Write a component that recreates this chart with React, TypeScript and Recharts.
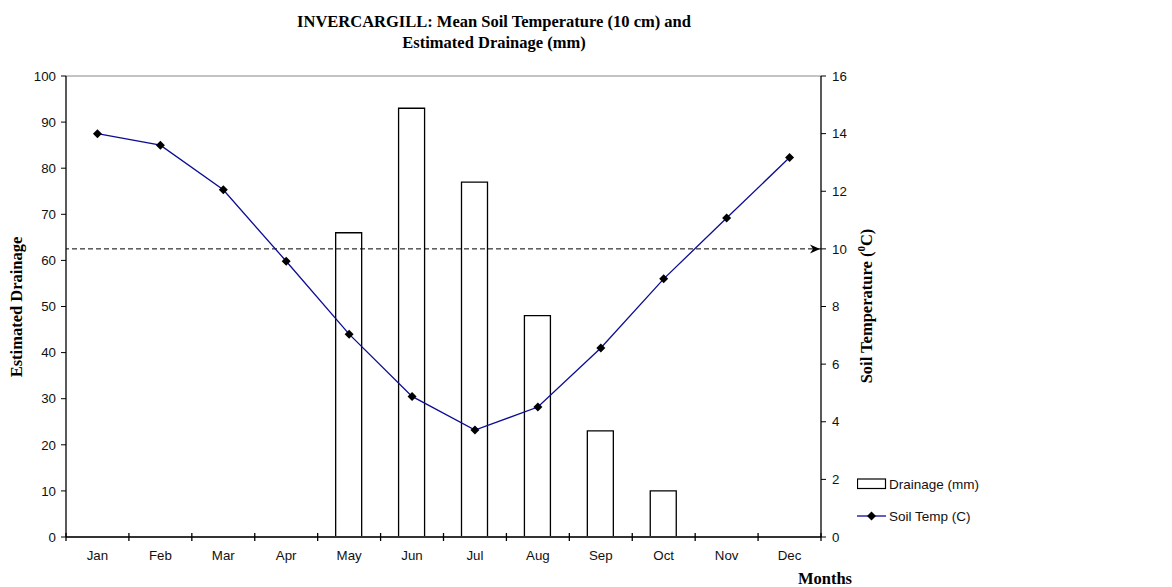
import { ComposedChart, Bar, Line, XAxis, YAxis, ReferenceLine } from "recharts";

const MONTHS = ["Jan", "Feb", "Mar", "Apr", "May", "Jun", "Jul", "Aug", "Sep", "Oct", "Nov", "Dec"];
const DRAINAGE = [0, 0, 0, 0, 66, 93, 77, 48, 23, 10, 0, 0];
const SOIL_TEMP = [14.0, 13.6, 12.05, 9.57, 7.04, 4.88, 3.71, 4.51, 6.56, 8.96, 11.07, 13.17];
const DRAINAGE_TICKS = [0, 10, 20, 30, 40, 50, 60, 70, 80, 90, 100];
const TEMP_TICKS = [0, 2, 4, 6, 8, 10, 12, 14, 16];
const THRESHOLD_TEMP = 10;

const data = MONTHS.map((month, i) => ({ month, drainage: DRAINAGE[i], temp: SOIL_TEMP[i] }));

const SERIF = '"Liberation Serif", "Times New Roman", serif';
const SANS = '"Liberation Sans", Arial, sans-serif';
const NAVY = "#0c0c94";
const tickStyle = { fontSize: 13.3, fill: "#111", fontFamily: SANS };

function Diamond(props: any) {
  const { cx, cy, index } = props;
  if (cx == null || cy == null) return null;
  const r = 4.5;
  return (
    <path key={`d-${index}`} d={`M${cx},${cy - r}L${cx + r},${cy}L${cx},${cy + r}L${cx - r},${cy}Z`} fill="#000" />
  );
}

function ArrowHead(props: any) {
  const vb = props.viewBox;
  if (!vb) return null;
  const x = vb.x + vb.width - 1;
  const y = vb.y;
  return <path d={`M${x},${y}L${x - 10},${y - 4.5}L${x - 7},${y}L${x - 10},${y + 4.5}Z`} fill="#000" />;
}

// month label plus the small marks across the axis at the month boundaries
function MonthTick(props: any) {
  const { x, y, payload, index, width, visibleTicksCount } = props;
  const w = Number(width);
  const n = Number(visibleTicksCount);
  const half = w > 0 && n > 0 ? w / n / 2 : 31.4;
  const top = y - 18;
  const bottom = y - 10;
  return (
    <g>
      <path d={`M${x - half},${top}V${bottom}`} stroke="#000" strokeWidth={1.3} fill="none" />
      {index === n - 1 && <path d={`M${x + half},${top}V${bottom}`} stroke="#000" strokeWidth={1.3} fill="none" />}
      <text x={x} y={y} dy="0.71em" textAnchor="middle" {...tickStyle}>
        {payload.value}
      </text>
    </g>
  );
}

const bold: React.CSSProperties = {
  position: "absolute",
  fontFamily: SERIF,
  fontWeight: "bold",
  fontSize: 16.5,
  color: "#000",
  whiteSpace: "nowrap",
  transform: "translate(-50%, -50%)",
};

export default function App() {
  return (
    <div style={{ position: "absolute", left: 0, top: 0, width: 1172, height: 587, background: "#fff", fontFamily: SANS }}>
      <ComposedChart width={1172} height={587} data={data} margin={{ top: 76, right: 311, bottom: 20, left: 25 }}>
        <XAxis
          dataKey="month"
          height={30}
          axisLine={{ stroke: "#333", strokeWidth: 2 }}
          tickLine={false}
          tickSize={4}
          tickMargin={10}
          tick={<MonthTick />}
          interval={0}
        />
        <YAxis
          yAxisId="left"
          width={41}
          domain={[0, 100]}
          ticks={DRAINAGE_TICKS}
          interval={0}
          tickSize={5}
          tickMargin={5}
          tick={tickStyle}
          axisLine={{ stroke: "#000", strokeWidth: 1.3 }}
          tickLine={{ stroke: "#000" }}
        />
        <YAxis
          yAxisId="right"
          orientation="right"
          width={40}
          domain={[0, 16]}
          ticks={TEMP_TICKS}
          interval={0}
          tickSize={5}
          tickMargin={6}
          tick={tickStyle}
          axisLine={{ stroke: "#000", strokeWidth: 1.3 }}
          tickLine={{ stroke: "#000" }}
        />
        <ReferenceLine yAxisId="left" y={100} stroke="#888" strokeWidth={1} />
        <Bar
          yAxisId="left"
          dataKey="drainage"
          name="Drainage (mm)"
          barSize={26}
          fill="#fff"
          stroke="#000"
          strokeWidth={1.3}
          isAnimationActive={false}
        />
        <ReferenceLine
          yAxisId="right"
          y={THRESHOLD_TEMP}
          stroke="#000"
          strokeDasharray="5 3"
          label={<ArrowHead />}
        />
        <Line
          yAxisId="right"
          dataKey="temp"
          name="Soil Temp (C)"
          stroke={NAVY}
          strokeWidth={1.3}
          dot={Diamond}
          activeDot={false}
          isAnimationActive={false}
        />
      </ComposedChart>

      <div style={{ ...bold, left: 494, top: 22 }}>INVERCARGILL: Mean Soil Temperature (10 cm) and</div>
      <div style={{ ...bold, left: 494, top: 43 }}>Estimated Drainage (mm)</div>
      <div style={{ ...bold, left: 17, top: 307, transform: "translate(-50%, -50%) rotate(-90deg)" }}>
        Estimated Drainage
      </div>
      <div style={{ ...bold, left: 866, top: 306, transform: "translate(-50%, -50%) rotate(-90deg)" }}>
        Soil Temperature (<sup style={{ fontSize: 11 }}>0</sup>C)
      </div>
      <div style={{ ...bold, left: 825, top: 579 }}>Months</div>

      <div style={{ position: "absolute", left: 857, top: 476, fontSize: 13.5, fontFamily: SANS, color: "#111" }}>
        <div style={{ display: "flex", alignItems: "center", height: 16 }}>
          <svg width={32} height={12}>
            <rect x={0.5} y={1} width={28} height={9.5} fill="#fff" stroke="#000" strokeWidth={1.2} />
          </svg>
          <span>Drainage (mm)</span>
        </div>
        <div style={{ display: "flex", alignItems: "center", height: 16, marginTop: 16 }}>
          <svg width={32} height={12}>
            <line x1={0} y1={6} x2={29} y2={6} stroke={NAVY} strokeWidth={1.3} />
            <path d="M14.5,1.5L19,6L14.5,10.5L10,6Z" fill="#000" />
          </svg>
          <span>Soil Temp (C)</span>
        </div>
      </div>
    </div>
  );
}
